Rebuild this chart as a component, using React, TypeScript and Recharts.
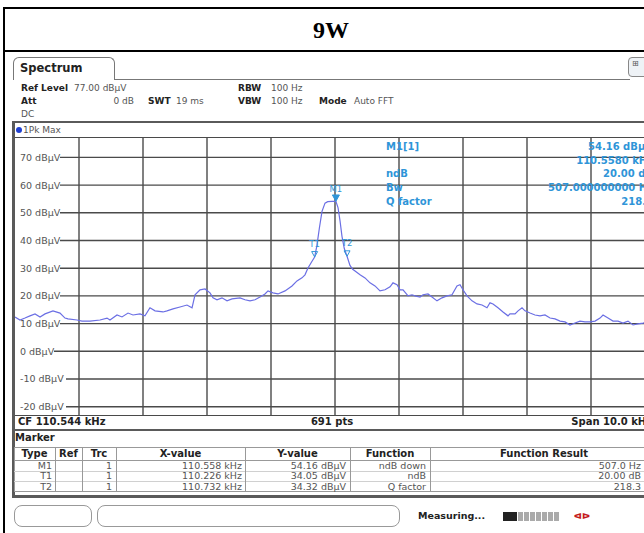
import React from "react";
import { LineChart, Line, XAxis, YAxis, ReferenceLine, ReferenceDot } from "recharts";

// trace: frequency (kHz) and level (dBµV)
const freqKHz = [
  105.544, 105.622, 105.7, 105.778, 105.857, 105.935, 106.013, 106.138, 106.247, 106.325,
  106.372, 106.513, 106.591, 106.716, 106.872, 106.982, 107.028, 107.138, 107.216, 107.31,
  107.388, 107.497, 107.575, 107.653, 107.732, 107.857, 107.919, 108.013, 108.122, 108.231,
  108.31, 108.357, 108.435, 108.513, 108.591, 108.638, 108.7, 108.778, 108.857, 108.935,
  109.06, 109.138, 109.216, 109.294, 109.372, 109.45, 109.497, 109.575, 109.653, 109.763,
  109.872, 109.95, 110.028, 110.075, 110.122, 110.185, 110.226, 110.26, 110.3, 110.341,
  110.388, 110.43, 110.5, 110.558, 110.591, 110.622, 110.653, 110.69, 110.732, 110.778,
  110.82, 110.857, 110.935, 111.013, 111.091, 111.169, 111.247, 111.325, 111.404, 111.45,
  111.513, 111.56, 111.607, 111.685, 111.747, 111.794, 111.872, 111.919, 111.997, 112.06,
  112.138, 112.216, 112.294, 112.372, 112.45, 112.497, 112.544, 112.607, 112.685, 112.763,
  112.841, 112.919, 112.966, 113.013, 113.091, 113.169, 113.247, 113.278, 113.357, 113.404,
  113.466, 113.513, 113.591, 113.669, 113.747, 113.825, 113.904, 113.982, 114.06, 114.138,
  114.216, 114.294, 114.372, 114.45, 114.529, 114.607, 114.685, 114.732, 114.81, 114.888,
  114.966, 115.044, 115.122, 115.201, 115.279, 115.357, 115.44, 115.544,
];
const levelDbuv = [
  12.4, 11.3, 12.0, 12.8, 13.5, 12.4, 13.5, 14.6, 13.8, 12.0,
  11.7, 11.3, 10.9, 10.9, 11.3, 12.0, 11.3, 13.1, 12.4, 13.8,
  13.1, 13.5, 12.8, 15.7, 14.6, 14.2, 14.6, 15.3, 16.0, 16.7,
  15.7, 20.4, 22.2, 22.5, 21.1, 19.3, 18.6, 19.3, 18.2, 18.9,
  19.3, 18.6, 18.2, 18.6, 19.6, 20.7, 21.8, 21.1, 20.7, 21.8,
  23.6, 25.4, 26.5, 27.6, 30.1, 32.5, 34.05, 38.0, 44.5, 50.5,
  53.5, 54.0, 54.1, 54.16, 51.9, 47.2, 41.5, 37.0, 34.32, 31.0,
  29.6, 29.0, 27.6, 26.5, 24.7, 23.6, 21.8, 22.2, 23.3, 24.7,
  24.0, 22.2, 22.2, 20.0, 20.4, 20.0, 19.6, 20.4, 20.7, 19.6,
  18.2, 19.3, 20.0, 20.4, 23.6, 24.0, 22.2, 20.0, 18.2, 17.1,
  16.7, 15.7, 17.5, 17.1, 15.7, 14.2, 12.8, 13.5, 13.5, 14.6,
  15.7, 14.6, 13.8, 13.1, 12.8, 13.1, 12.0, 11.7, 10.9, 10.6,
  9.5, 10.2, 10.9, 10.6, 10.6, 10.9, 12.0, 13.1, 12.0, 10.9,
  10.9, 10.2, 10.9, 9.5, 9.9, 10.2, 10.6, 10.2,
];

const levelTicks = [70, 60, 50, 40, 30, 20, 10, 0, -10, -20];
const freqGrid = [106.544, 107.544, 108.544, 109.544, 110.544, 111.544, 112.544, 113.544, 114.544];
const startKHz = 105.544;
const stopKHz = 115.544;
const refLevel = 77;
const bottomLevel = -23;
// marker info block hides the grid in the upper right
const infoBoxFreq = 111.325;
const infoBoxLevel = 51.9;

const markerNames = ["M1", "T1", "T2"];
const markerFreq = [110.558, 110.226, 110.732];
const markerLevel = [54.16, 34.05, 34.32];
const markerXText = ["110.558 kHz", "110.226 kHz", "110.732 kHz"];
const markerYText = ["54.16 dBµV", "34.05 dBµV", "34.32 dBµV"];
const markerFunction = ["ndB down", "ndB", "Q factor"];
const functionResult = ["507.0 Hz", "20.00 dB", "218.3"];

const infoLabels = ["M1[1]", "", "ndB", "Bw", "Q factor"];
const infoValues = ["54.16 dBµV", "110.5580 kHz", "20.00 dB", "507.000000000 Hz", "218.3"];

const trace = freqKHz.map((f, i) => ({ f, level: levelDbuv[i] }));

const FONT = '"DejaVu Sans", Verdana, sans-serif';
const GRID = "#4a4a4a";
const TRACE = "#6b6fe4";
const MARK = "#2f95d8";
const FRAME = "#5a5a5a";

const T = ({
  x,
  y,
  children,
  bold = false,
  color = "#555",
  size = 9,
  align = "left",
  family = FONT,
}: {
  x: number;
  y: number;
  children: React.ReactNode;
  bold?: boolean;
  color?: string;
  size?: number;
  align?: "left" | "right" | "center";
  family?: string;
}) => {
  const tx = align === "right" ? "-100%" : align === "center" ? "-50%" : "0";
  return (
    <div
      style={{
        position: "absolute",
        left: x,
        top: y,
        transform: `translate(${tx}, -50%)`,
        fontFamily: family,
        fontSize: size,
        fontWeight: bold ? 700 : 400,
        color,
        whiteSpace: "nowrap",
        lineHeight: 1,
      }}
    >
      {children}
    </div>
  );
};

const Box = ({ x, y, w, h, style }: { x: number; y: number; w: number; h: number; style?: React.CSSProperties }) => (
  <div style={{ position: "absolute", left: x, top: y, width: w, height: h, boxSizing: "border-box", ...style }} />
);

const LevelLabel = (props: any) => {
  const { viewBox, value } = props;
  const text = `${value} dBµV`;
  return (
    <g>
      <rect x={viewBox.x} y={viewBox.y - 5} width={text.length * 6 + 3} height={10} fill="#fff" />
      <text x={viewBox.x + 5} y={viewBox.y + 3.5} fontSize={9.5} fill="#555" fontFamily={FONT}>
        {text}
      </text>
    </g>
  );
};

const MarkerShape = (props: any) => {
  const { cx, cy, name } = props;
  const main = name === "M1";
  const size = main ? 3.5 : 3;
  return (
    <g>
      <path
        d={`M${cx - size},${cy - size * 1.8} L${cx + size},${cy - size * 1.8} L${cx},${cy} Z`}
        fill={main ? MARK : "none"}
        stroke={MARK}
        strokeWidth={1}
      />
      <text
        x={cx}
        y={cy - (main ? 9 : 10)}
        textAnchor="middle"
        fontSize={8.5}
        fill={MARK}
        fontFamily={FONT}
      >
        {name}
      </text>
    </g>
  );
};

const colEdges = [14, 55, 82, 116, 245, 350, 430, 660];
const tableTop = 447;
const headerH = 13;
const rowH = 10.5;

export default function App() {
  return (
    <div
      style={{
        position: "absolute",
        left: 0,
        top: 0,
        width: 644,
        height: 533,
        overflow: "hidden",
        background: "#fff",
        fontFamily: FONT,
      }}
    >
      {/* outer table frame and title */}
      <Box x={3} y={7} w={700} h={45} style={{ border: "2px solid #000" }} />
      <Box x={3} y={50} w={2} h={500} style={{ background: "#000" }} />
      <T x={331} y={30} bold size={24} color="#000" align="center" family='"Liberation Serif", "Times New Roman", serif'>
        9W
      </T>

      {/* tab bar */}
      <div
        style={{
          position: "absolute",
          left: 13,
          top: 57,
          width: 102,
          height: 23,
          boxSizing: "border-box",
          border: "1px solid #777",
          borderBottom: "none",
          borderRadius: "6px 6px 0 0",
          background: "#fff",
        }}
      />
      <Box x={115} y={79} w={515} h={1} style={{ background: "#777" }} />
      <T x={20} y={69} bold size={11.5} color="#222">
        Spectrum
      </T>
      <Box x={628} y={57} w={20} h={20} style={{ border: "1px solid #888", borderRadius: 4, background: "#eef2f6" }} />
      <T x={632} y={64} size={8} color="#555">
        ⊞
      </T>

      {/* header settings */}
      <T x={21} y={88} bold color="#222">Ref Level</T>
      <T x={74} y={88}>77.00 dBµV</T>
      <T x={238} y={88} bold color="#222">RBW</T>
      <T x={271} y={88}>100 Hz</T>
      <T x={21} y={101} bold color="#222">Att</T>
      <T x={134} y={101} align="right">0 dB</T>
      <T x={148} y={101} bold color="#222">SWT</T>
      <T x={176} y={101}>19 ms</T>
      <T x={238} y={101} bold color="#222">VBW</T>
      <T x={271} y={101}>100 Hz</T>
      <T x={319} y={101} bold color="#222">Mode</T>
      <T x={354} y={101}>Auto FFT</T>
      <T x={21} y={114}>DC</T>

      {/* trace window frame */}
      <Box x={12} y={121} w={640} h={2} style={{ background: FRAME }} />
      <Box x={12} y={121} w={3} h={377} style={{ background: FRAME }} />
      <div
        style={{
          position: "absolute",
          left: 16,
          top: 127,
          width: 6,
          height: 6,
          borderRadius: 3,
          background: "#1f3fd0",
        }}
      />
      <T x={23} y={130}>1Pk Max</T>
      <Box x={15} y={137} w={640} h={1} style={{ background: GRID }} />
      <Box x={15} y={415} w={640} h={1} style={{ background: GRID }} />

      <div style={{ position: "absolute", left: 15, top: 138 }}>
        <LineChart width={640} height={277} data={trace} margin={{ top: 0, right: 0, bottom: 0, left: 0 }}>
          <XAxis type="number" dataKey="f" domain={[startKHz, stopKHz]} hide allowDataOverflow />
          <YAxis type="number" domain={[bottomLevel, refLevel]} hide allowDataOverflow />
          {freqGrid.map((f) => (
            <ReferenceLine
              key={`v${f}`}
              x={f}
              stroke={GRID}
              strokeWidth={1.4}
              segment={
                f > infoBoxFreq
                  ? [
                      { x: f, y: bottomLevel },
                      { x: f, y: infoBoxLevel },
                    ]
                  : undefined
              }
            />
          ))}
          {levelTicks.map((v) => (
            <ReferenceLine
              key={`h${v}`}
              y={v}
              stroke={GRID}
              strokeWidth={1.4}
              segment={
                v > infoBoxLevel
                  ? [
                      { x: startKHz, y: v },
                      { x: infoBoxFreq, y: v },
                    ]
                  : undefined
              }
              label={<LevelLabel value={v} />}
            />
          ))}
          <Line
            type="linear"
            dataKey="level"
            stroke={TRACE}
            strokeWidth={1.2}
            dot={false}
            activeDot={false}
            isAnimationActive={false}
            zIndex={2500}
          />
          {markerNames.map((name, i) => (
            <ReferenceDot
              key={name}
              x={markerFreq[i]}
              y={markerLevel[i]}
              zIndex={2600}
              shape={(p: any) => <MarkerShape {...p} name={name} />}
            />
          ))}
        </LineChart>
      </div>

      {/* marker info block */}
      {infoLabels.map((label, i) => (
        <T key={`il${i}`} x={386} y={147 + i * 13.7} bold size={10} color={MARK}>
          {label}
        </T>
      ))}
      {infoValues.map((value, i) => (
        <T key={`iv${i}`} x={653} y={147 + i * 13.7} bold size={10} color={MARK} align="right">
          {value}
        </T>
      ))}

      {/* footer of the diagram */}
      <T x={18} y={422} bold size={10} color="#222">CF 110.544 kHz</T>
      <T x={332} y={422} bold size={10} color="#222" align="center">691 pts</T>
      <T x={652} y={422} bold size={10} color="#222" align="right">Span 10.0 kHz</T>
      <Box x={12} y={429} w={640} h={2} style={{ background: FRAME }} />

      {/* marker table */}
      <T x={15} y={438} bold size={10} color="#222">Marker</T>
      <Box
        x={colEdges[0]}
        y={tableTop}
        w={colEdges[colEdges.length - 1] - colEdges[0]}
        h={headerH + rowH * 3}
        style={{ border: "1px solid #999" }}
      />
      <Box x={colEdges[0]} y={tableTop + headerH} w={640} h={1} style={{ background: "#999" }} />
      {[1, 2].map((r) => (
        <Box
          key={`rl${r}`}
          x={colEdges[0]}
          y={tableTop + headerH + rowH * r}
          w={640}
          h={1}
          style={{ background: "#d0d0d0" }}
        />
      ))}
      {colEdges.slice(1, -1).map((x) => (
        <Box key={`cl${x}`} x={x} y={tableTop} w={1} h={headerH + rowH * 3} style={{ background: "#999" }} />
      ))}
      {["Type", "Ref", "Trc", "X-value", "Y-value", "Function", "Function Result"].map((h, i) => (
        <T
          key={h}
          x={i === 6 ? 544 : (colEdges[i] + colEdges[i + 1]) / 2}
          y={tableTop + headerH / 2 + 0.5}
          bold
          size={10}
          color="#222"
          align="center"
        >
          {h}
        </T>
      ))}
      {markerNames.map((name, r) => {
        const cy = tableTop + headerH + rowH * r + rowH / 2 + 0.5;
        return (
          <React.Fragment key={`row${name}`}>
            <T x={colEdges[1] - 3} y={cy} size={9.5} align="right">{name}</T>
            <T x={colEdges[3] - 4} y={cy} size={9.5} align="right">1</T>
            <T x={colEdges[4] - 3} y={cy} size={9.5} align="right">{markerXText[r]}</T>
            <T x={colEdges[5] - 4} y={cy} size={9.5} align="right">{markerYText[r]}</T>
            <T x={colEdges[6] - 4} y={cy} size={9.5} align="right">{markerFunction[r]}</T>
            <T x={641} y={cy} size={9.5} align="right">{functionResult[r]}</T>
          </React.Fragment>
        );
      })}
      <Box x={12} y={495} w={640} h={3} style={{ background: FRAME }} />

      {/* status bar */}
      <Box x={14} y={505} w={78} h={22} style={{ border: "1px solid #999", borderRadius: 8 }} />
      <Box x={97} y={505} w={303} h={22} style={{ border: "1px solid #999", borderRadius: 8 }} />
      <T x={418} y={516} bold size={9.5} color="#222">Measuring...</T>
      <Box x={503} y={512} w={14} h={9} style={{ background: "#222" }} />
      <Box x={518} y={512} w={42} h={9} style={{ background: "repeating-linear-gradient(90deg,#aaa 0 5px,#fff 5px 6px)" }} />
      <T x={582} y={516} bold size={9} color="#c41a1a" align="center">ᐊᐅ</T>
    </div>
  );
}
